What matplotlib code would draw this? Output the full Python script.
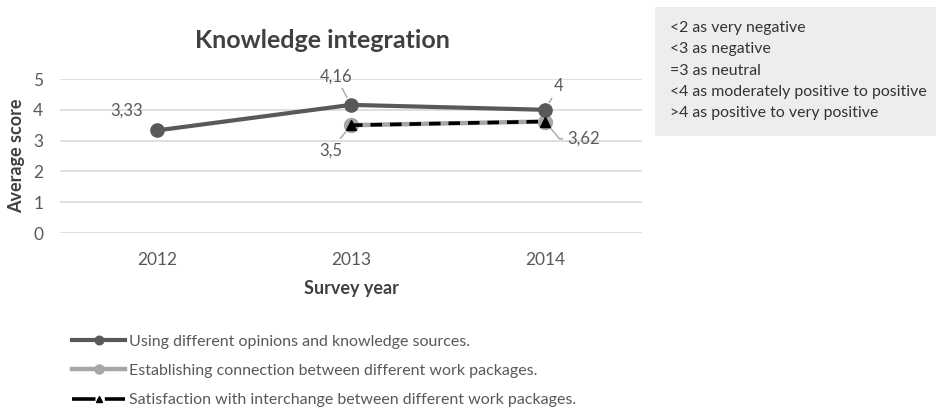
import matplotlib
matplotlib.use("Agg")
import matplotlib.pyplot as plt
import numpy as np
from matplotlib.patches import Rectangle

plt.rcParams["font.family"] = ["Lato", "DejaVu Sans"]

years = ["2012", "2013", "2014"]
using_sources = [3.33, 4.16, 4.00]
establishing = [np.nan, 3.50, 3.62]
satisfaction = [np.nan, 3.50, 3.62]

series_labels = [
    "Using different opinions and knowledge sources.",
    "Establishing connection between different work packages.",
    "Satisfaction with interchange between different work packages.",
]
scale_notes = [
    "<2 as very negative",
    "<3 as negative",
    "=3 as neutral",
    "<4 as moderately positive to positive",
    ">4 as positive to very positive",
]

DARK = "#595959"
LIGHT = "#a6a6a6"
TEXT = "#595959"
W, H = 936, 409

fig = plt.figure(figsize=(W / 100, H / 100), dpi=100)
ax = fig.add_axes([60 / W, (H - 233) / H, 582 / W, 154 / H])

x = np.arange(len(years))
h1, = ax.plot(x, using_sources, color=DARK, lw=3, marker="o", ms=9.5,
              label=series_labels[0], zorder=4)
h2, = ax.plot(x, establishing, color=LIGHT, lw=3.2, marker="o", ms=10,
              label=series_labels[1], zorder=3)
h3, = ax.plot(x, satisfaction, color="black", lw=2.6, ls=(0, (3.2, 2.2)),
              marker="^", ms=6.5, label=series_labels[2], zorder=5)

ax.set_xlim(-0.5, len(years) - 0.5)
ax.set_ylim(0, 5)
ax.set_yticks(range(6))
ax.set_xticks(x)
ax.set_xticklabels(years)
ax.tick_params(length=0, labelsize=12.5, labelcolor=TEXT, pad=14)
ax.tick_params(axis="y", pad=12)
ax.grid(axis="y", color="#d9d9d9", lw=1.2)
ax.set_axisbelow(True)
for s in ax.spines.values():
    s.set_visible(False)

ax.set_xlabel("Survey year", fontsize=13, fontweight="bold", color="#404040", labelpad=8)
ax.set_ylabel("Average score", fontsize=13, fontweight="bold", color="#404040", labelpad=6)
fig.text(322 / W, 1 - 41 / H, "Knowledge integration", ha="center", va="center",
         fontsize=18, fontweight="bold", color="#404040")


def fmt(v):
    return f"{v:g}".replace(".", ",")


leader = dict(arrowstyle="-", color=LIGHT, lw=1, shrinkA=1, shrinkB=6)
label_kw = dict(textcoords="offset points", ha="center", va="center",
                fontsize=12, color=TEXT)

ax.annotate(fmt(using_sources[0]), (0, using_sources[0]), xytext=(-22, 14), **label_kw)
ax.annotate(fmt(using_sources[1]), (1, using_sources[1]), xytext=(-11, 20.5),
            arrowprops=leader, **label_kw)
ax.annotate(fmt(using_sources[2]), (2, using_sources[2]), xytext=(10, 17),
            arrowprops=leader, **label_kw)
ax.annotate(fmt(satisfaction[1]), (1, satisfaction[1]), xytext=(-14.5, -18),
            arrowprops=leader, **label_kw)
ax.annotate(fmt(satisfaction[2]), (2, satisfaction[2]), xytext=(27.5, -12.5),
            arrowprops=dict(leader, connectionstyle="angle,angleA=0,angleB=130,rad=0"),
            **label_kw)

# legend sample for the dashed series: dash, triangle, dash
leg = fig.legend(handles=[h1, h2, h3], loc="upper left",
                 bbox_to_anchor=(58 / W, 1 - 320 / H), frameon=False,
                 fontsize=11.5, handlelength=3.3, handletextpad=0.25,
                 labelspacing=0.95, markerscale=0.65)
leg.get_lines()[2].set_linestyle((0, (6.5, 2.6)))
for t in leg.get_texts():
    t.set_color(TEXT)

fig.patches.append(Rectangle((655 / W, 1 - 136 / H), (W - 655) / W, 129 / H,
                             transform=fig.transFigure, facecolor="#ededed",
                             edgecolor="none", zorder=0))
for i, note in enumerate(scale_notes):
    fig.text(670 / W, 1 - (28 + 21.3 * i) / H, note, ha="left", va="center",
             fontsize=11.4, color="#333333")

fig.savefig("out.png", dpi=100)
